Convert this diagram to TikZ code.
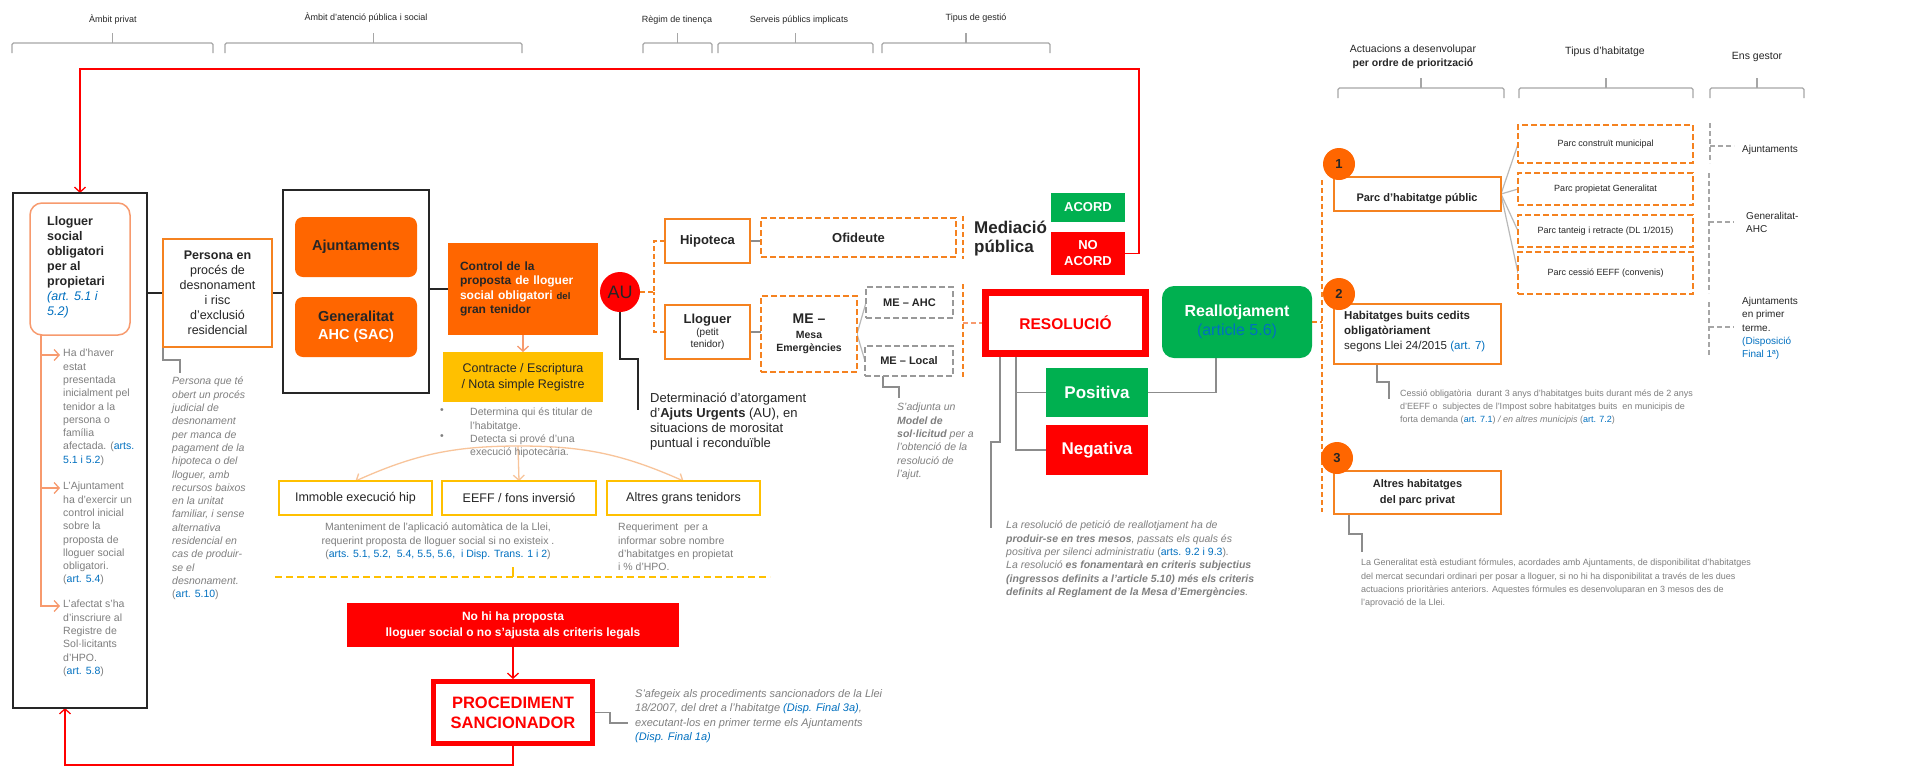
\documentclass[tikz,border=0pt]{standalone}
\usepackage{fontspec}
\setmainfont{Liberation Sans}
\usetikzlibrary{arrows.meta}
\pgfdeclarelayer{bg}
\pgfsetlayers{bg,main}
\definecolor{orF}{HTML}{FF6600}
\definecolor{orB}{HTML}{F58220}
\definecolor{salm}{HTML}{F79A6E}
\definecolor{yel}{HTML}{FFC000}
\definecolor{grn}{HTML}{00B050}
\definecolor{rd}{HTML}{FF0000}
\definecolor{gtx}{HTML}{7F7F7F}
\definecolor{blu}{HTML}{0070C0}
\definecolor{brk}{HTML}{A6A6A6}
\definecolor{lor}{HTML}{F8C49A}
\definecolor{dk}{HTML}{262626}
\definecolor{gln}{HTML}{8C8C8C}
\newcommand\fs[2]{\fontsize{#1}{#2}\selectfont}
\newcommand\bl[1]{{\color{blu}#1}}
\newcommand\bx[7]{\node[#1, minimum width={(#5)-(#3)}, minimum height={(#6)-(#4)}, inner sep=0pt, outer sep=0pt] (#2) at ({((#3)+(#5))/2},{((#4)+(#6))/2}) {#7};}
\newcommand\brkt[3]{\draw[brkline] (#1,#3+10) -- (#1,#3) -- (#2,#3) -- (#2,#3+10); \draw[brkline] ({(#1+#2)/2},#3) -- ({(#1+#2)/2},#3-10);}
\tikzset{
 brkline/.style={draw=brk, line width=1.3pt, rounded corners=1.5pt},
 hdr/.style={font=\fs{9}{13}, text=dk, align=center, inner sep=0pt},
 blk/.style={draw=dk, line width=1.5pt},
 obox/.style={draw=orB, line width=1.5pt, fill=white, align=center},
 ofill/.style={fill=orF, rounded corners=8pt, align=center},
 ybox/.style={draw=yel, line width=1.5pt, fill=white, align=center, font=\fs{12.5}{15}, text=dk},
 odbox/.style={draw=orB, line width=1.5pt, dash pattern=on 6pt off 3pt, fill=white, align=center},
 gdbox/.style={draw=gray!80, line width=1.3pt, dash pattern=on 6pt off 3pt, fill=white, align=center},
 gtxt/.style={font=\fs{10.5}{13.3}, text=gtx, align=left, inner sep=0pt, anchor=north west},
 gline/.style={draw=gln, line width=1.3pt},
 fline/.style={draw=gray!55, line width=1.2pt},
 kline/.style={draw=dk, line width=1.3pt},
 rline/.style={draw=rd, line width=1.3pt},
 odash/.style={draw=orB, line width=1.3pt, dash pattern=on 5pt off 3pt},
 gdash/.style={draw=gray!70, line width=1.2pt, dash pattern=on 5pt off 3pt},
 vbarb/.style={-{Straight Barb[length=5pt,width=11pt,line width=1.3pt]}},
 circ/.style={circle, fill=orF, minimum size=32pt, inner sep=0pt, font=\bfseries\fs{13}{15}, text=dk},
}
\begin{document}
\begin{tikzpicture}[x=1pt,y=-1pt]
\useasboundingbox (0,0) rectangle (1911,772);
\begin{pgfonlayer}{bg}
\fill[white] (0,0) rectangle (1911,772);
\end{pgfonlayer}

% ---------- headers
\node[hdr] (h1) at (113,20) {Àmbit privat};
\node[hdr] (h2) at (366,18) {Àmbit d'atenció pública i social};
\node[hdr] (h3) at (677,20) {Règim de tinença};
\node[hdr] (h4) at (799,20) {Serveis públics implicats};
\node[hdr] (h5) at (976,18) {Tipus de gestió};
\node[hdr, font=\fs{10.5}{14}] (h6) at (1413,57) {Actuacions a desenvolupar\\\textbf{per ordre de priorització}};
\node[hdr, font=\fs{10.5}{13}] (h7) at (1605,52) {Tipus d'habitatge};
\node[hdr, font=\fs{10.5}{13}] (h8) at (1757,57) {Ens gestor};
\brkt{12}{213}{43}
\brkt{225}{522}{43}
\brkt{643}{712}{43}
\brkt{718}{873}{43}
\brkt{882}{1050}{43}
\brkt{1338}{1504}{88}
\brkt{1519}{1693}{88}
\brkt{1710}{1804}{88}

% ---------- left column
\bx{blk}{privbox}{13}{193}{147}{708}{}
\bx{draw=salm, line width=1.5pt, rounded corners=12pt, fill=white}{lsoc}{30}{203}{130}{335}{}
\node[font=\bfseries\fs{12.5}{15}, text=dk, align=left, anchor=north west, inner sep=0pt] (lsoct) at (47,216) {Lloguer\\social\\obligatori\\per al\\propietari\\{\mdseries\itshape\color{blu}(art. 5.1 i}\\{\mdseries\itshape\color{blu}5.2)}};
\coordinate (ia1) at (60,355);
\coordinate (ia2) at (60,488);
\coordinate (ia3) at (60,606);
\node[gtxt] (it1) at (63,349) {Ha d'haver\\estat\\presentada\\inicialment pel\\tenidor a la\\persona o\\família\\afectada. (\bl{arts.}\\\bl{5.1 i 5.2})};
\node[gtxt] (it2) at (63,482) {L'Ajuntament\\ha d'exercir un\\control inicial\\sobre la\\proposta de\\lloguer social\\obligatori.\\(\bl{art. 5.4})};
\node[gtxt] (it3) at (63,600) {L'afectat s'ha\\d'inscriure al\\Registre de\\Sol·licitants\\d'HPO.\\(\bl{art. 5.8})};

\bx{obox, font=\fs{12.5}{15}, text=dk}{pers}{163}{239}{272}{347}{\textbf{Persona en}\\procés de\\desnonament\\i risc\\d'exclusió\\residencial}
\coordinate (pc0) at (180,360);
\coordinate (pc1) at (180,373);
\node[gtxt, font=\itshape\fs{10.5}{13.3}] (perst) at (172,377) {Persona que té\\obert un procés\\judicial de\\desnonament\\per manca de\\pagament de la\\hipoteca o del\\lloguer, amb\\recursos baixos\\en la unitat\\familiar, i sense\\alternativa\\residencial en\\cas de produir-\\se el\\desnonament.\\{\upshape(\bl{art. 5.10})}};

\bx{blk}{adm}{283}{190}{429}{393}{}
\bx{ofill, font=\bfseries\fs{14.5}{17}, text=dk}{ajb}{295}{217}{417}{277}{Ajuntaments}
\bx{ofill, font=\bfseries\fs{14.5}{18}, text=dk}{genb}{295}{297}{417}{357}{Generalitat\\{\color{white}AHC (SAC)}}

\bx{fill=orF, font=\bfseries\fs{12}{14.5}, text=dk, align=left, text width=126pt}{ctl}{448}{243}{598}{335}{Control de la\\proposta {\color{white}de lloguer}\\{\color{white}social obligatori} {\fs{9.5}{14.5}del}\\gran tenidor}
\bx{fill=yel, font=\fs{12.5}{16}, text=dk, align=center}{ctr}{443}{352}{603}{402}{Contracte / Escriptura\\/ Nota simple Registre}
\node[gtxt] (bul) at (440,408) {•\\\mbox{}\\•};
\node[gtxt] (bult) at (470,408) {Determina qui és titular de\\l'habitatge.\\Detecta si prové d'una\\execució hipotecària.};
\coordinate (fan) at (518,446);

\bx{ybox}{imm}{279}{481}{432}{515}{Immoble execució hip}
\bx{ybox}{eef}{442}{481}{596}{515}{EEFF / fons inversió}
\bx{ybox}{alt}{607}{481}{760}{515}{Altres grans tenidors}
\node[gtxt, anchor=north, align=center] (mant) at (438,523) {Manteniment de l'aplicació automàtica de la Llei,\\requerint proposta de lloguer social si no existeix .\\(\bl{arts. 5.1, 5.2,\ \ 5.4, 5.5, 5.6,\ \ i Disp. Trans. 1 i 2})};
\node[gtxt] (req) at (618,523) {Requeriment\ \ per a\\informar sobre nombre\\d'habitatges en propietat\\i \% d'HPO.};
\draw[yel, line width=1.3pt, dash pattern=on 7pt off 4pt] (275,577) -- (770,577);
\draw[yel, line width=1.3pt] (513,567) -- (513,577);

\bx{fill=rd, text=white, font=\bfseries\fs{12}{16}, align=center}{nop}{347}{603}{679}{647}{No hi ha proposta\\lloguer social o no s'ajusta als criteris legals}
\bx{draw=rd, line width=5pt, fill=white, text=rd, font=\bfseries\fs{16.5}{20}, align=center}{proc}{433.5}{681.5}{592.5}{743.5}{PROCEDIMENT\\SANCIONADOR}
\coordinate (fb1) at (65,765);
\coordinate (pr1) at (610,723);
\coordinate (pr2) at (628,723);
\node[gtxt, font=\itshape\fs{11}{14.5}] (proct) at (635,689) {S'afegeix als procediments sancionadors de la Llei\\18/2007, del dret a l'habitatge \bl{(Disp. Final 3a)},\\executant-los en primer terme els Ajuntaments\\\bl{(Disp. Final 1a)}};

% ---------- AU and services
\node[circle, fill=rd, minimum size=40pt, inner sep=0pt, font=\fs{18}{20}, text=dk] (au) at (620,292) {AU};
\coordinate (au1) at (638,359);
\coordinate (au2) at (638,410);
\node[font=\fs{13}{15}, text=dk, align=left, anchor=north west, inner sep=0pt] (aut) at (650,393) {Determinació d'atorgament\\d'\textbf{Ajuts Urgents} (AU), en\\situacions de morositat\\puntual i reconduïble};
\coordinate (aux) at (654,292);

\bx{obox, font=\bfseries\fs{13}{15}, text=dk}{hip}{665}{219}{750}{263}{Hipoteca}
\bx{odbox, font=\bfseries\fs{13}{15}, text=dk}{ofi}{761}{218}{956}{257}{Ofideute}
\draw[odash] (963,216) -- (963,259);
\node[font=\bfseries\fs{17}{19}, text=dk, align=left, anchor=west, inner sep=0pt] (med) at (974,239) {Mediació\\pública};

\bx{obox, font=\fs{10}{12}, text=dk}{llg}{665}{305}{750}{359}{{\bfseries\fs{13}{16}Lloguer}\\(petit\\tenidor)}
\bx{odbox, font=\bfseries\fs{10.5}{13}, text=dk}{me}{761}{296}{857}{372}{{\fs{14}{16}ME –}\\[2pt]Mesa\\Emergències}
\bx{gdbox, font=\bfseries\fs{11}{13}, text=dk}{mea}{866}{287}{953}{318}{ME – AHC}
\bx{gdbox, font=\bfseries\fs{11}{13}, text=dk}{mel}{865}{346}{953}{376}{ME – Local}
\draw[odash] (963,284) -- (963,378);
\coordinate (vsep) at (963,323);
\coordinate (ml1) at (899,387);
\coordinate (ml2) at (899,398);
\node[gtxt, font=\itshape\fs{10.5}{13.3}] (melt) at (897,403) {S'adjunta un\\\textbf{Model de}\\\textbf{sol·licitud} per a\\l'obtenció de la\\resolució de\\l'ajut.};

% ---------- resolution
\bx{draw=rd, line width=7pt, fill=white, text=rd, font=\bfseries\fs{15.5}{18}}{res}{985.5}{292.5}{1145.5}{353.5}{RESOLUCIÓ}
\bx{fill=grn, text=white, font=\bfseries\fs{17}{19}}{pos}{1046}{368}{1148}{417}{Positiva}
\bx{fill=rd, text=white, font=\bfseries\fs{17}{19}}{neg}{1046}{425}{1148}{475}{Negativa}
\coordinate (rb1) at (991,442);
\coordinate (rb2) at (991,528);
\bx{fill=grn, rounded corners=12pt, text=white, font=\bfseries\fs{16}{19}, align=center}{real}{1162}{286}{1312}{358}{Reallotjament\\{\mdseries\color{blu}(article 5.6)}}
\node[gtxt, font=\itshape\fs{10.5}{13.3}] (rest) at (1006,521) {La resolució de petició de reallotjament ha de\\\textbf{produir-se en tres mesos}, passats els quals és\\positiva per silenci administratiu {\upshape(\bl{arts. 9.2 i 9.3})}.\\La resolució \textbf{es fonamentarà en criteris subjectius}\\\textbf{(ingressos definits a l'article 5.10) més els criteris}\\\textbf{definits al Reglament de la Mesa d'Emergències}.};

\bx{fill=grn, text=white, font=\bfseries\fs{13}{15}}{acd}{1051}{193}{1125}{222}{ACORD}
\bx{fill=rd, text=white, font=\bfseries\fs{13}{16}, align=center}{nac}{1051}{232}{1125}{275}{NO\\ACORD}
\coordinate (rt1) at (1139,69);

% ---------- right part
\coordinate (vt) at (1322,180);
\coordinate (vb) at (1322,512);
\bx{obox}{b1}{1334}{177}{1501}{211}{}
\node[font=\bfseries\fs{11}{13}, text=dk, inner sep=0pt] (b1t) at (1417,199) {Parc d'habitatge públic};
\node[circ] (c1) at (1339,164) {1};
\bx{odbox, font=\fs{9}{11}, text=dk}{p1}{1518}{125}{1693}{163}{Parc construït municipal}
\bx{odbox, font=\fs{9}{11}, text=dk}{p2}{1518}{173}{1693}{205}{Parc propietat Generalitat}
\bx{odbox, font=\fs{9}{11}, text=dk}{p3}{1518}{215}{1693}{247}{Parc tanteig i retracte (DL 1/2015)}
\bx{odbox, font=\fs{9}{11}, text=dk}{p4}{1518}{252}{1693}{294}{Parc cessió EEFF (convenis)}

\draw[gdash] (1710,123) -- (1710,163);
\draw[gdash] (1710,146) -- (1734,146);
\node[font=\fs{10}{12}, text=dk, anchor=west, inner sep=0pt] (eg1) at (1742,150) {Ajuntaments};
\draw[gdash] (1709,173) -- (1709,293);
\draw[gdash] (1709,222) -- (1734,222);
\node[font=\fs{10}{13}, text=dk, anchor=north west, align=left, inner sep=0pt] (eg2) at (1746,212) {Generalitat-\\AHC};
\draw[gdash] (1709,302) -- (1709,357);
\draw[gdash] (1709,327) -- (1734,327);
\node[font=\fs{10}{13.3}, text=dk, anchor=north west, align=left, inner sep=0pt] (eg3) at (1742,297) {Ajuntaments\\en primer\\terme.\\\bl{(Disposició}\\\bl{Final 1ª)}};

\bx{obox}{b2}{1334}{304}{1501}{364}{}
\node[font=\fs{11.5}{15}, text=dk, align=left, anchor=north west, inner sep=0pt] (b2t) at (1344,311) {\textbf{Habitatges buits cedits}\\\textbf{obligatòriament}\\segons Llei 24/2015 \bl{(art. 7)}};
\node[circ] (c2) at (1339,294) {2};
\coordinate (k1) at (1389,382);
\coordinate (k2) at (1389,399);
\node[gtxt, font=\fs{9}{13}] (b2n) at (1400,390) {Cessió obligatòria\ \ durant 3 anys d'habitatges buits durant més de 2 anys\\d'EEFF o\ \ subjectes de l'Impost sobre habitatges buits\ \ en municipis de\\forta demanda (\bl{art. 7.1}) \textit{/ en altres municipis} (\bl{art. 7.2})};

\bx{obox, font=\bfseries\fs{11}{16}, text=dk}{b3}{1334}{471}{1501}{514}{Altres habitatges\\del parc privat}
\node[circ] (c3) at (1337,458) {3};
\coordinate (k3) at (1362,534);
\coordinate (k4) at (1362,552);
\node[gtxt, font=\fs{9}{13.3}] (b3n) at (1361,559) {La Generalitat està estudiant fórmules, acordades amb Ajuntaments, de disponibilitat d'habitatges\\del mercat secundari ordinari per posar a lloguer, si no hi ha disponibilitat a través de les dues\\actuacions prioritàries anteriors. Aquestes fórmules es desenvoluparan en 3 mesos des de\\l'aprovació de la Llei.};

% ---------- connectors
\begin{pgfonlayer}{bg}
\draw[salm, line width=1.3pt, vbarb] ([xshift=11pt]lsoc.south west) |- (ia1);
\draw[salm, line width=1.3pt, vbarb] ([xshift=11pt]lsoc.south west) |- (ia2);
\draw[salm, line width=1.3pt, vbarb] ([xshift=11pt]lsoc.south west) |- (ia3);
\draw[kline] (privbox.east |- pers.west) -- (pers.west);
\draw[gline] (pers.south west) |- (pc0) -- (pc1);
\draw[kline] (pers.east) -- (pers.east -| adm.west);
\draw[kline] (adm.east |- ctl.west) -- (ctl.west);
\draw[salm, line width=1.3pt, vbarb] (ctl.south) -- (ctr.north);
\draw[lor, line width=1.3pt, vbarb] (fan) to[bend right=12] (imm.north);
\draw[lor, line width=1.3pt, vbarb] (fan) -- (eef.north);
\draw[lor, line width=1.3pt, vbarb] (fan) to[bend left=12] (alt.north);
\draw[rline, vbarb, shorten >=2.5pt] (nop.south) -- (proc.north);
\draw[rline, vbarb] (proc.south) |- (fb1) -- ([xshift=-15pt]privbox.south);
\draw[gline] (proc.east) -| (pr1) -- (pr2);
\draw[kline] (au.south) |- (au1) -- (au2);
\draw[odash] (au.east) -- (aux);
\draw[odash] (hip.west) -| (aux);
\draw[odash] (llg.west) -| (aux);
\draw[gline] (hip.east) -- (hip.east -| ofi.west);
\draw[gline] (llg.east) -- (llg.east -| me.west);
\draw[fline] (me.east) -- (mea.west);
\draw[fline] (me.east) -- (mel.west);
\draw[draw=salm, line width=1.3pt, dash pattern=on 5pt off 3pt] (vsep) -- (res.west);
\draw[gline] ([xshift=-26pt]mel.south) |- (ml1) -- (ml2);
\draw[gline] ([xshift=30.5pt]res.south west) |- (pos.west);
\draw[gline] ([xshift=30.5pt]res.south west) |- (neg.west);
\draw[gline] ([xshift=14.5pt]res.south west) |- (rb1) -- (rb2);
\draw[gline] (pos.east) -| ([xshift=-21pt]real.south);
\draw[rline, vbarb] (nac.east) -| (rt1) -| (privbox.north);
\draw[odash] (vt) -- (vb);
\draw[odash] (real.east) -- (real.east -| vt);
\draw[fline] (b1.east) -- (p1.west);
\draw[fline] (b1.east) -- (p2.west);
\draw[fline] (b1.east) -- (p3.west);
\draw[fline] (b1.east) -- (p4.west);
\draw[gline] ([xshift=43pt]b2.south west) |- (k1) -- (k2);
\draw[gline] ([xshift=15pt]b3.south west) |- (k3) -- (k4);
\end{pgfonlayer}
\end{tikzpicture}
\end{document}
